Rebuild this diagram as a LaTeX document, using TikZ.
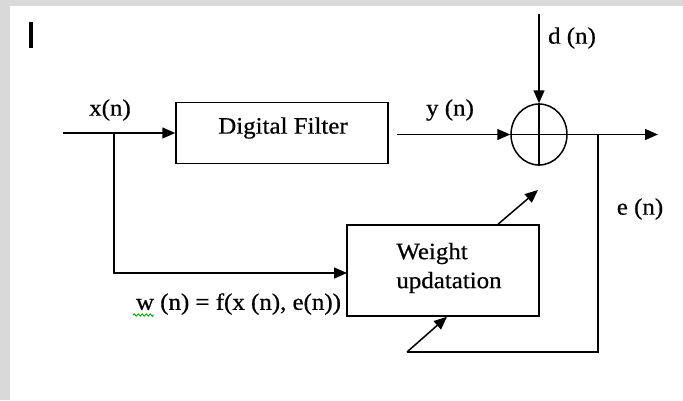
\documentclass[tikz,border=0pt]{standalone}
\usepackage{fontspec}
\setmainfont{Liberation Serif}[FakeStretch=1.06,FakeBold=0.6]
\usetikzlibrary{arrows.meta,shapes.geometric,decorations.pathmorphing}
\begin{document}
\begin{tikzpicture}[x=1pt,y=-1pt,
  line width=1.5pt,
  every node/.style={font=\fontsize{23.5}{26}\selectfont, inner sep=0pt},
  blk/.style={draw, rectangle, minimum width=#1},
  arr/.style={-{Triangle[length=13pt,width=11pt]}},
  lbl/.style={anchor=center}
]
\useasboundingbox (0,0) rectangle (683,400);
\fill[gray!30] (0,0) rectangle (683,400);
\fill[white] (10,6) rectangle (683,400);
% cursor bar
\draw[line width=3.5pt] (31,22) -- (31,48);
% blocks
\node[blk=212pt, minimum height=61pt] (filter) at (282,133) {};
\node (ftext) at (283,128) {Digital Filter};
\node[blk=192pt, minimum height=91pt] (weight) at (443,270.5) {};
\node[align=left] (wtext) at (449,268) {Weight\\[3pt]updatation};
\node[draw, ellipse, minimum width=56pt, minimum height=61pt] (sum) at (539,134.5) {};
\draw (sum.north) -- (sum.south);
\draw (sum.west) -- (sum.east);
% coordinates
\coordinate (in) at (63,133);
\coordinate (b1) at (114,133);
\coordinate (wIn) at (347,273);
\coordinate (yst) at (397,134.5);
\coordinate (dtop) at (539,14);
\coordinate (out) at (658,134.5);
\coordinate (eb) at (598,134.5);
\coordinate (ec) at (598,352);
\coordinate (el) at (407,352);
\coordinate (wout) at (538,190);
% connectors
\draw[arr] (in) -- (in -| filter.west);
\draw[arr] (b1) |- (wIn);
\draw[arr] (yst) -- (sum.west);
\draw[arr] (dtop) -- (sum.north);
\draw[arr] (sum.east) -- (out);
\draw (eb) -- (ec) -- (el);
\draw[arr] (el) -- ([xshift=4pt]weight.south);
\draw[arr] ([xshift=55pt]weight.north) -- (wout);
% labels
\node[lbl] (xl) at (110,110) {x(n)};
\node[lbl] (yl) at (450,110) {y (n)};
\node[lbl] (dl) at (572,38) {d (n)};
\node[lbl] (el2) at (640,209) {e (n)};
\node[lbl] (wl) at (238.5,304) {w (n) = f(x (n), e(n))};
\draw[green!60!black, line width=0.8pt, decorate, decoration={snake, amplitude=1.2pt, segment length=4pt}] (133,315) -- (154,315);
\end{tikzpicture}
\end{document}
